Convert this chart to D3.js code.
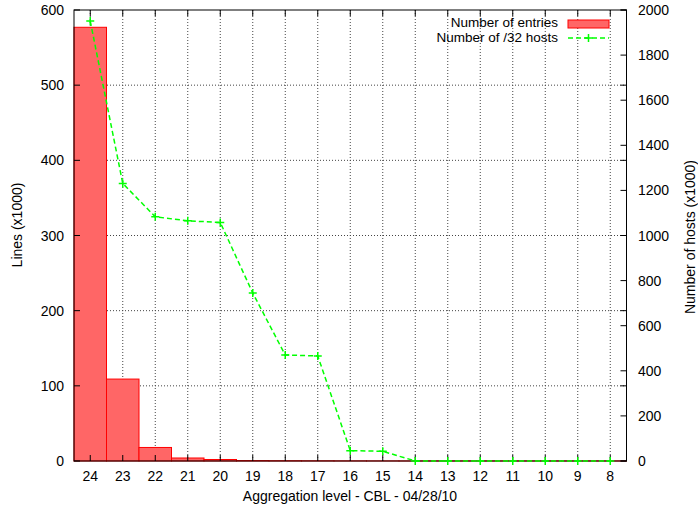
<!DOCTYPE html>
<html><head><meta charset="utf-8">
<script src="https://cdn.jsdelivr.net/npm/d3@7"></script>
<style>body{margin:0;background:#fff;} text{font-family:"Liberation Sans",Arial,sans-serif;}</style>
</head><body>
<svg id="c" width="698" height="508"></svg>
<script>
const categories = ["24","23","22","21","20","19","18","17","16","15","14","13","12","11","10","9","8"];
const entries = [577,109,18,4,2,0.6,0.4,0.3,0.2,0.15,0.1,0.1,0.1,0.1,0.1,0.1,0.1];
const hosts = [1951,1231,1083,1065,1058,745,470,466,46,43,0,0,0,0,0,0,0];
const yTicks = [0,100,200,300,400,500,600];
const y2Ticks = [0,200,400,600,800,1000,1200,1400,1600,1800,2000];
const seriesNames = ["Number of entries","Number of /32 hosts"];

const L=74, R=626.5, T=10, B=461;
const svg=d3.select("#c");
const x=d3.scaleBand().domain(categories).range([L,R]).padding(0);
const y=d3.scaleLinear().domain([0,600]).range([B,T]);
const y2=d3.scaleLinear().domain([0,2000]).range([B,T]);
const cx=c=>x(c)+x.bandwidth()/2;

// grid
const g=svg.append("g");
categories.forEach(c=>{
  g.append("line").attr("x1",cx(c)).attr("x2",cx(c)).attr("y1",T).attr("y2",B)
   .attr("stroke","#444").attr("stroke-width",1).attr("stroke-dasharray","1,2");
});
yTicks.filter(v=>v>0&&v<600).forEach(v=>{
  g.append("line").attr("x1",L).attr("x2",R).attr("y1",y(v)).attr("y2",y(v))
   .attr("stroke","#444").attr("stroke-width",1).attr("stroke-dasharray","1,2");
});

// bars
svg.append("g").selectAll("rect").data(categories).join("rect")
  .attr("x",c=>x(c)).attr("width",x.bandwidth())
  .attr("y",(c,i)=>y(entries[i])).attr("height",(c,i)=>B-y(entries[i]))
  .attr("fill","#ff6666").attr("stroke","#ff0000").attr("stroke-width",1);

// ticks
const tk=svg.append("g").attr("stroke","#000").attr("stroke-width",1);
categories.forEach(c=>{
  tk.append("line").attr("x1",cx(c)).attr("x2",cx(c)).attr("y1",B).attr("y2",B-6);
  tk.append("line").attr("x1",cx(c)).attr("x2",cx(c)).attr("y1",T).attr("y2",T+6);
});
yTicks.forEach(v=>{
  tk.append("line").attr("x1",L).attr("x2",L+6).attr("y1",y(v)).attr("y2",y(v));
  tk.append("line").attr("x1",R).attr("x2",R-6).attr("y1",y(v)).attr("y2",y(v));
});
y2Ticks.forEach(v=>{
  tk.append("line").attr("x1",R).attr("x2",R-6).attr("y1",y2(v)).attr("y2",y2(v));
});

// border
svg.append("rect").attr("x",L).attr("y",T).attr("width",R-L).attr("height",B-T)
  .attr("fill","none").attr("stroke","#000").attr("stroke-width",1);

// labels
const lab=svg.append("g").attr("font-size",14).attr("fill","#000");
categories.forEach(c=>{
  lab.append("text").attr("x",cx(c)).attr("y",481).attr("text-anchor","middle").text(c);
});
yTicks.forEach(v=>{
  lab.append("text").attr("x",64).attr("y",y(v)+5).attr("text-anchor","end").text(v);
});
y2Ticks.forEach(v=>{
  lab.append("text").attr("x",638).attr("y",y2(v)+5).attr("text-anchor","start").text(v);
});
lab.append("text").attr("x",350).attr("y",501).attr("text-anchor","middle").text("Aggregation level - CBL - 04/28/10");
lab.append("text").attr("transform","translate(22,225) rotate(-90)").attr("text-anchor","middle").text("Lines (x1000)");
lab.append("text").attr("transform","translate(695,237) rotate(-90)").attr("text-anchor","middle").text("Number of hosts (x1000)");

// line
const line=d3.line().x((d,i)=>cx(categories[i])).y(d=>y2(d));
svg.append("path").datum(hosts).attr("d",line).attr("fill","none")
  .attr("stroke","#00ff00").attr("stroke-width",1.5).attr("stroke-dasharray","5,3");
const plus=(px,py)=>`M${px-4},${py}H${px+4}M${px},${py-4}V${py+4}`;
svg.append("g").selectAll("path").data(hosts).join("path")
  .attr("d",(d,i)=>plus(cx(categories[i]),y2(d)))
  .attr("stroke","#00ff00").attr("stroke-width",1.5).attr("fill","none");

// legend
const lg=svg.append("g").attr("font-size",13.5);
lg.append("text").attr("x",558).attr("y",27).attr("text-anchor","end").text(seriesNames[0]);
lg.append("rect").attr("x",568).attr("y",20).attr("width",41).attr("height",8)
  .attr("fill","#ff6666").attr("stroke","#ff0000");
lg.append("text").attr("x",558).attr("y",42).attr("text-anchor","end").text(seriesNames[1]);
lg.append("line").attr("x1",568).attr("x2",609).attr("y1",38).attr("y2",38)
  .attr("stroke","#00ff00").attr("stroke-width",1.5).attr("stroke-dasharray","5,3");
lg.append("path").attr("d",plus(588.5,38)).attr("stroke","#00ff00").attr("stroke-width",1.5);
</script>
</body></html>
